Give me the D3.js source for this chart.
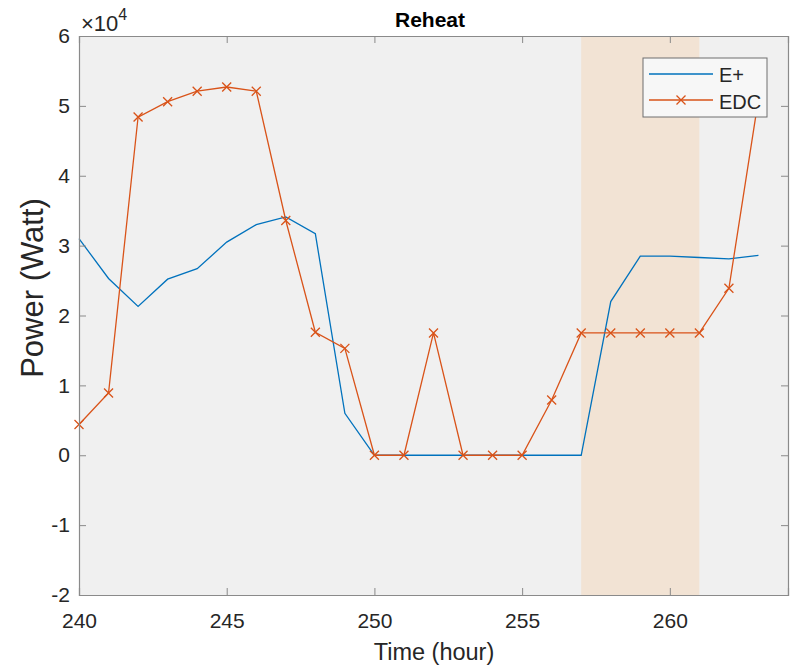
<!DOCTYPE html>
<html><head><meta charset="utf-8">
<script src="https://cdn.jsdelivr.net/npm/d3@7"></script>
<style>body{margin:0;background:#fff;} svg{display:block;font-family:"Liberation Sans",Arial,sans-serif;}</style>
</head><body>
<svg id="c" width="790" height="665"></svg>
<script>
const hours = [240,241,242,243,244,245,246,247,248,249,250,251,252,253,254,255,256,257,258,259,260,261,262,263];
const ePlus = [31000,25300,21300,25200,26700,30500,33000,34100,31700,6000,0,0,0,0,0,0,0,0,22000,28500,28500,28300,28100,28600];
const edc = [4400,8900,48400,50600,52100,52700,52100,33600,17600,15300,0,0,17500,0,0,0,7900,17500,17500,17500,17500,17500,23900,51000];
const xTicks = [240,245,250,255,260];
const yTicks = [-2,-1,0,1,2,3,4,5,6];
const shade = [257,261];

const svg = d3.select("#c");
const L=79,R=788,T=36,B=595;
const x = d3.scaleLinear().domain([240,264]).range([L,R]);
const y = d3.scaleLinear().domain([-20000,60000]).range([B,T]);
const axisCol="#8a8a8a", textCol="#262626";

svg.append("rect").attr("x",L).attr("y",T).attr("width",R-L).attr("height",B-T).attr("fill","#f0f0f0");
svg.append("rect").attr("x",x(shade[0])).attr("y",T).attr("width",x(shade[1])-x(shade[0])).attr("height",B-T).attr("fill","#f2e3d4");

const line = d3.line().x((d,i)=>x(hours[i])).y(d=>y(d));
svg.append("path").datum(ePlus).attr("d",line).attr("fill","none").attr("stroke","#0072BD").attr("stroke-width",1.3);
svg.append("path").datum(edc).attr("d",line).attr("fill","none").attr("stroke","#D95319").attr("stroke-width",1.3);
const m=4.5;
const mk = svg.append("g").attr("stroke","#D95319").attr("stroke-width",1.3);
edc.forEach((v,i)=>{
  const cx=x(hours[i]), cy=y(v);
  mk.append("path").attr("d",`M${cx-m},${cy-m}L${cx+m},${cy+m}M${cx-m},${cy+m}L${cx+m},${cy-m}`);
});

// axes
const ax = svg.append("g");
ax.append("g").attr("transform",`translate(0,${B})`).call(d3.axisBottom(x).tickValues(xTicks).tickSize(-7).tickPadding(18).tickFormat(d3.format("d")));
ax.append("g").attr("transform",`translate(0,${T})`).call(d3.axisTop(x).tickValues(xTicks).tickSize(-7).tickFormat(""));
ax.append("g").attr("transform",`translate(${L},0)`).call(d3.axisLeft(y).tickValues(yTicks.map(v=>v*1e4)).tickSize(-7).tickPadding(9).tickFormat(d=>d/1e4));
ax.append("g").attr("transform",`translate(${R},0)`).call(d3.axisRight(y).tickValues(yTicks.map(v=>v*1e4)).tickSize(-7).tickFormat(""));
ax.selectAll(".domain").attr("stroke",axisCol).attr("stroke-width",1.2);
ax.selectAll(".tick line").attr("stroke",axisCol);
ax.selectAll(".tick text").attr("fill",textCol).attr("font-size",21).attr("font-family","Liberation Sans, Arial, sans-serif");

svg.append("text").attr("x",430).attr("y",27).attr("text-anchor","middle").attr("font-weight","bold").attr("font-size",21).attr("fill","#000").text("Reheat");
const ex = svg.append("text").attr("x",L+2).attr("y",31).attr("font-size",22).attr("fill",textCol);
ex.append("tspan").text("\u00d710");
ex.append("tspan").attr("dy",-11).attr("font-size",16).text("4");
svg.append("text").attr("x",434).attr("y",660).attr("text-anchor","middle").attr("font-size",23.5).attr("fill",textCol).text("Time (hour)");
svg.append("text").attr("transform",`translate(43,288) rotate(-90)`).attr("text-anchor","middle").attr("font-size",31).attr("fill",textCol).text("Power (Watt)");

// legend
const lg = svg.append("g");
lg.append("rect").attr("x",643).attr("y",58).attr("width",124).attr("height",59).attr("fill","#f7f7f7").attr("stroke","#6e6e6e").attr("stroke-width",1);
lg.append("line").attr("x1",649).attr("x2",713).attr("y1",74).attr("y2",74).attr("stroke","#0072BD").attr("stroke-width",1.3);
lg.append("line").attr("x1",649).attr("x2",713).attr("y1",100).attr("y2",100).attr("stroke","#D95319").attr("stroke-width",1.3);
lg.append("path").attr("d",`M${681-m},${100-m}L${681+m},${100+m}M${681-m},${100+m}L${681+m},${100-m}`).attr("stroke","#D95319").attr("stroke-width",1.3);
lg.append("text").attr("x",719).attr("y",82).attr("font-size",20).attr("fill",textCol).text("E+");
lg.append("text").attr("x",719).attr("y",109).attr("font-size",20).attr("fill",textCol).text("EDC");
</script>
</body></html>
